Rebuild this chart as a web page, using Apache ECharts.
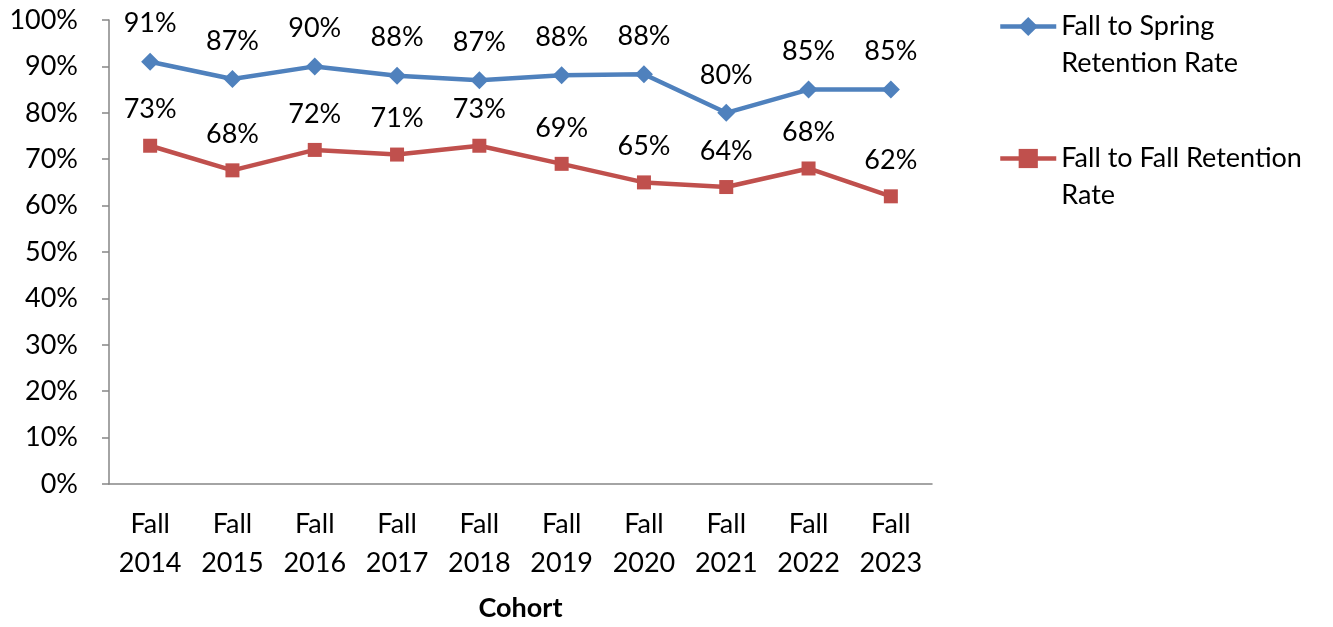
<!DOCTYPE html>
<html><head><meta charset="utf-8">
<script src="https://cdn.jsdelivr.net/npm/echarts@6/dist/echarts.min.js"></script>
<style>html,body{margin:0;padding:0;background:#fff}#c{width:1333px;height:627px}</style>
</head><body><div id="c"></div>
<script>
const categories = ['Fall\n2014','Fall\n2015','Fall\n2016','Fall\n2017','Fall\n2018','Fall\n2019','Fall\n2020','Fall\n2021','Fall\n2022','Fall\n2023'];
const springRetention = [91, 87.3, 90, 88, 87, 88.1, 88.3, 80, 85, 85];
const fallRetention = [72.9, 67.6, 72, 71, 72.9, 69, 65, 64, 68, 62];
const seriesNames = ['Fall to Spring Retention Rate', 'Fall to Fall Retention Rate'];
const legendLabels = ['Fall to Spring\nRetention Rate', 'Fall to Fall Retention\nRate'];
const FONT = 'Lato';
const chart = echarts.init(document.getElementById('c'));
const lbl = {show:true, position:'top', distance:14, fontFamily:FONT, fontSize:27, color:'#000', lineHeight:30,
  formatter: p => Math.round(p.value) + '%'};
chart.setOption({
  animation:false,
  grid:{left:109, right:401, top:20, bottom:142, containLabel:false},
  legend:{orient:'vertical', left:993, top:-34, itemWidth:56, itemHeight:24, itemGap:21,
    lineStyle:{width:4.5},
    formatter: n => '\n' + legendLabels[seriesNames.indexOf(n)],
    textStyle:{fontFamily:FONT, fontSize:27, color:'#000', lineHeight:37}},
  xAxis:{type:'category', data:categories, boundaryGap:true,
    axisLine:{lineStyle:{color:'#868686', width:1.5}},
    axisTick:{length:10, lineStyle:{color:'#868686', width:1.5}},
    axisLabel:{fontFamily:FONT, fontSize:27, color:'#000', lineHeight:39, margin:21, interval:0},
    name:'Cohort', nameLocation:'middle', nameGap:111,
    nameTextStyle:{fontFamily:FONT, fontSize:27, fontWeight:'bold', color:'#000'}},
  yAxis:{type:'value', min:0, max:100, interval:10,
    axisLine:{show:true, lineStyle:{color:'#868686', width:1.5}},
    axisTick:{show:true, length:7, lineStyle:{color:'#868686', width:1.5}},
    splitLine:{show:false},
    axisLabel:{fontFamily:FONT, fontSize:27, color:'#000', margin:31, formatter: v => v + '%'}},
  series:[
    {name:seriesNames[0], type:'line', data:springRetention, symbol:'diamond', symbolSize:18,
     lineStyle:{color:'#4F81BD', width:4.5}, itemStyle:{color:'#4F81BD'}, label:lbl},
    {name:seriesNames[1], type:'line', data:fallRetention, symbol:'rect', symbolSize:14,
     lineStyle:{color:'#C0504D', width:4.5}, itemStyle:{color:'#C0504D'}, label:lbl}
  ]
});
</script></body></html>
